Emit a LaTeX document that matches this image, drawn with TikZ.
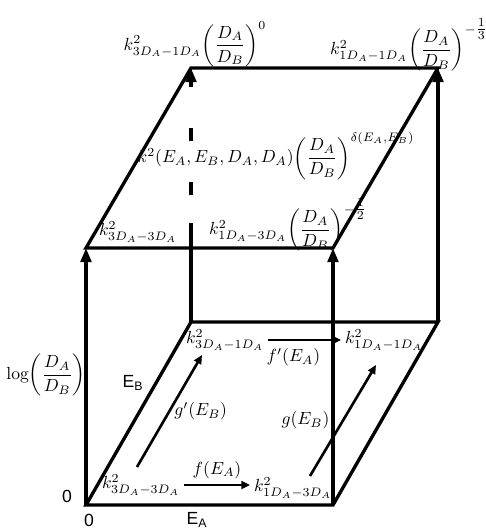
\documentclass[tikz,border=0pt]{standalone}
\usepackage{amsmath}
\usepackage{fontspec}
\newfontfamily\axisfont{Liberation Sans}
\usetikzlibrary{arrows.meta,calc}

\begin{document}
\begin{tikzpicture}[
        edge/.style={line width=1.9pt, line join=miter},
        uparr/.style={edge, -{Triangle[length=8pt,width=6pt]}},
        arr/.style={line width=1.5pt, -{Triangle[length=5pt,width=4.5pt]}},
        lbl/.style={font=\normalsize, inner sep=2pt},
        axl/.style={font=\axisfont, inner sep=1pt}
    ]
        \useasboundingbox (-1.72,-0.54) rectangle (8.0,10.1);

        % --- corners of the box ---
        \coordinate (o)   at (0,0);
        \coordinate (fr)  at (4.94,0);
        \coordinate (bl)  at (2.10,3.66);
        \coordinate (br)  at (7.04,3.66);
        \coordinate (tfl) at (0,5.14);
        \coordinate (tfr) at (4.94,5.14);
        \coordinate (tbl) at (2.10,8.74);
        \coordinate (tbr) at (7.04,8.74);
        \coordinate (hid) at (2.10,5.64);
        \coordinate (dashstart) at (2.10,6.20);

        % bottom and top faces
        \draw[edge] (bl) -- (o) -- (fr) -- (br) -- cycle;
        \draw[edge] (tbl) -- (tfl) -- (tfr) -- (tbr) -- cycle;

        % vertical edges
        \draw[uparr] (o) -- (tfl);
        \draw[uparr] (fr) -- (tfr);
        \draw[uparr] (br) -- (tbr);
        \draw[edge] (bl) -- (hid);
        \draw[uparr, dash pattern=on 0.26cm off 0.82cm] (dashstart) -- (tbl);

        % --- top labels ---
        \node[lbl] (k31top) at (2.18, 9.22) {$k^2_{3D_A-1D_A}\!\left(\dfrac{D_A}{D_B}\right)^{0}$};
        \node[lbl] (k11top) at (6.46, 9.20) {$k^2_{1D_A-1D_A}\!\left(\dfrac{D_A}{D_B}\right)^{-\tfrac{1}{3}}$};
        \node[lbl] (kmid) at (3.80, 6.98) {$k^2(E_A,E_B,D_A,D_A)\!\left(\dfrac{D_A}{D_B}\right)^{\delta(E_A,E_B)}$};
        \node[lbl] (k33top) at (1.04, 5.46) {$k^2_{3D_A-3D_A}$};
        \node[lbl] (k13top) at (4.04, 5.60) {$k^2_{1D_A-3D_A}\!\left(\dfrac{D_A}{D_B}\right)^{-\tfrac{1}{2}}$};

        % --- axes ---
        \node[lbl] (logl) at (-0.80, 2.60) {$\log\!\left(\dfrac{D_A}{D_B}\right)$};
        \node[axl] (zerol) at (-0.38, 0.18) {0};
        \node[axl] (zerob) at (0.06, -0.30) {0};
        \node[axl] (ea) at (2.22, -0.30) {E\textsubscript{A}};
        \node[axl] (eb) at (0.94, 2.44) {E\textsubscript{B}};

        % --- bottom labels ---
        \node[lbl] (k33) at (1.10, 0.40) {$k^2_{3D_A-3D_A}$};
        \node[lbl] (k13) at (4.14, 0.34) {$k^2_{1D_A-3D_A}$};
        \node[lbl] (k31) at (2.78, 3.30) {$k^2_{3D_A-1D_A}$};
        \node[lbl] (k11) at (5.96, 3.30) {$k^2_{1D_A-1D_A}$};

        \coordinate (gps) at (1.02, 0.76);
        \coordinate (gpe) at (2.32, 3.00);
        \coordinate (gs)  at (4.48, 0.58);
        \coordinate (ge)  at (5.80, 2.80);

        % transitions
        \draw[arr] (k33.east) -- node[lbl, above=1pt] {$f(E_A)$} (k33.east -| k13.west);
        \draw[arr] (k31.east) -- node[lbl, below=2pt, pos=0.35] {$f'(E_A)$} (k31.east -| k11.west);
        \draw[arr] (gps) -- node[lbl, right] {$g'(E_B)$} (gpe);
        \draw[arr] (gs) -- node[lbl, left=5pt] {$g(E_B)$} (ge);
    \end{tikzpicture}
\end{document}
